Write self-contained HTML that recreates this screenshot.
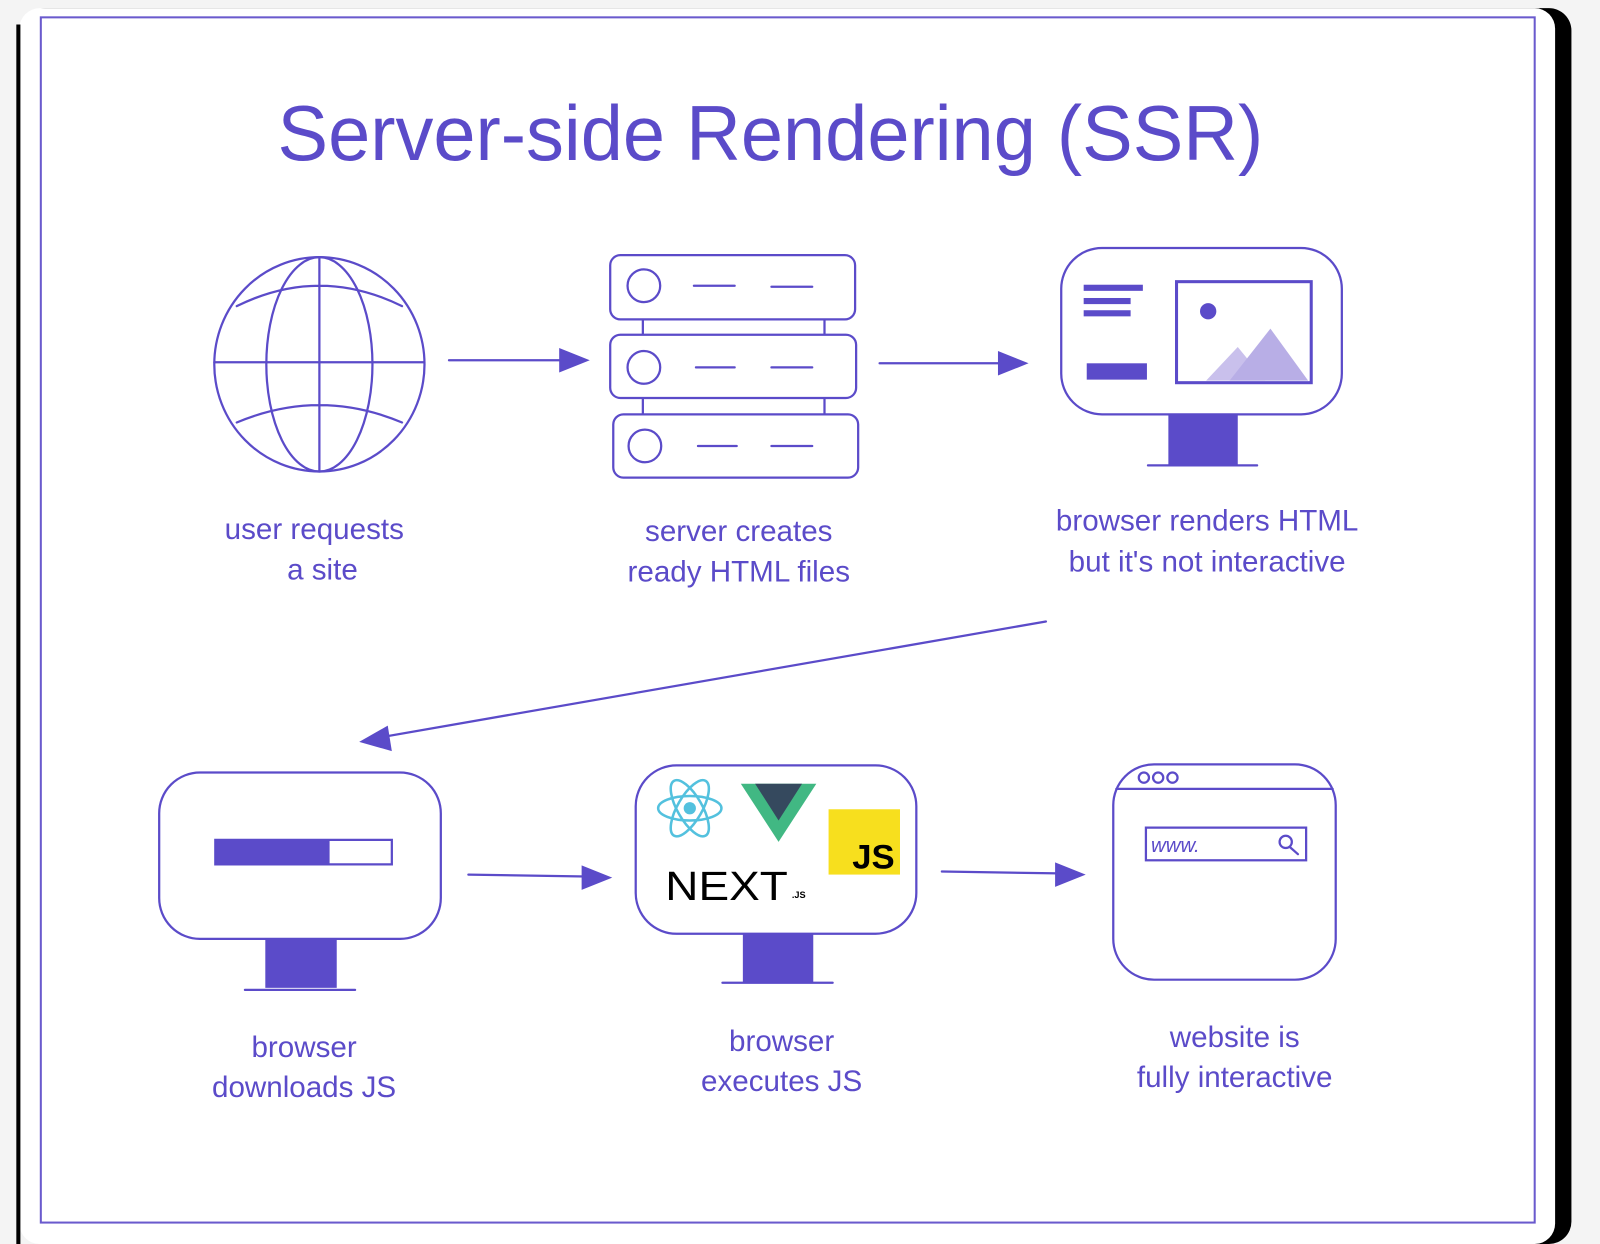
<!DOCTYPE html>
<html><head><meta charset="utf-8"><style>
html,body{margin:0;padding:0;background:#fff;}
svg{display:block;}
text{font-family:"Liberation Sans",sans-serif;fill:#5b4bc9;}
</style></head><body>
<svg width="1600" height="1244" viewBox="0 0 1568 1219" preserveAspectRatio="none" xmlns="http://www.w3.org/2000/svg">
<rect x="0" y="0" width="1568" height="1219" fill="#f4f4f4"/>
<rect x="22" y="8" width="1518" height="1211" rx="22" fill="#000"/>
<rect x="19" y="8" width="1505" height="1211" rx="20" fill="#fff"/>
<path d="M18 24 V1219" stroke="#000" stroke-width="4"/>
<rect x="40" y="17" width="1464" height="1181" fill="none" stroke="#6a5acd" stroke-width="2"/>
<g fill="none" stroke="#5b4bc9" stroke-width="2.2" stroke-linecap="round">
<ellipse cx="313" cy="357" rx="103" ry="105"/>
<ellipse cx="313" cy="357" rx="52" ry="105"/>
<path d="M313 252 V462 M210 355 H416 M232 300 Q313 260 394 300 M232 414 Q313 380 394 414"/>
<path d="M440 353 H560 M862 356 H990 M459 857 L582 859 M923 854 L1046 856 M1025 609 L370 723"/>
</g>
<g fill="#5b4bc9">
<path d="M578 353 L548 341 L548 365 Z"/>
<path d="M1008 356 L978 344 L978 368 Z"/>
<path d="M600 860 L570 848 L570 872 Z"/>
<path d="M1064 857 L1034 845 L1034 869 Z"/>
<path d="M352 727 L380 711 L384 736 Z"/>
</g>
<g fill="none" stroke="#5b4bc9" stroke-width="2.2" stroke-linecap="round">
<path d="M630 313 V406 M808 313 V406"/>
<rect x="598" y="250" width="240" height="63" rx="10" fill="#fff"/>
<rect x="598" y="328" width="241" height="62" rx="10" fill="#fff"/>
<rect x="601" y="406" width="240" height="62" rx="10" fill="#fff"/>
<circle cx="631" cy="280" r="16"/><circle cx="631" cy="360" r="16"/><circle cx="632" cy="437" r="16"/>
<path d="M680 280 H720 M756 281 H796 M682 360 H720 M756 360 H796 M684 437 H722 M756 437 H796"/>
<rect x="1040" y="243" width="275" height="163" rx="40"/>
<path d="M1125 456 H1232"/>
<rect x="1153" y="276" width="132" height="99" stroke-width="3"/>
<rect x="156" y="757" width="276" height="163" rx="40"/>
<path d="M240 970 H348"/>
<rect x="211" y="823" width="173" height="24"/>
<rect x="623" y="750" width="275" height="165" rx="40"/>
<path d="M708 963 H816"/>
<rect x="1091" y="749" width="218" height="211" rx="40"/>
<path d="M1094 773 H1306"/>
<circle cx="1121" cy="762" r="5"/><circle cx="1135" cy="762" r="5"/><circle cx="1149" cy="762" r="5"/>
<rect x="1123" y="811" width="157" height="32"/>
<circle cx="1260" cy="825" r="6"/><path d="M1264 830 L1272 837"/>
</g>
<g fill="#5b4bc9">
<rect x="1145" y="406" width="68" height="50"/>
<rect x="1062" y="279" width="58" height="6"/><rect x="1062" y="292" width="46" height="6"/><rect x="1062" y="304" width="46" height="6"/>
<rect x="1065" y="356" width="59" height="16"/>
<circle cx="1184" cy="305" r="8"/>
<rect x="260" y="920" width="70" height="48"/>
<rect x="211" y="823" width="112" height="24"/>
<rect x="728" y="915" width="69" height="48"/>
</g>
<path d="M1182 373 L1213 340 L1240 373 Z" fill="#c9c0ec"/>
<path d="M1205 373 L1245 322 L1282 373 Z" fill="#b8aee6"/>
<g fill="none" stroke="#53c1de" stroke-width="2.5">
<ellipse cx="676" cy="792" rx="31" ry="12"/>
<ellipse cx="676" cy="792" rx="31" ry="12" transform="rotate(60 676 792)"/>
<ellipse cx="676" cy="792" rx="31" ry="12" transform="rotate(-60 676 792)"/>
</g>
<circle cx="676" cy="792" r="6" fill="#53c1de"/>
<path d="M726 768 H800 L763 825 Z" fill="#41b883"/>
<path d="M740 768 H786 L763 804 Z" fill="#35495e"/>
<rect x="812" y="793" width="70" height="64" fill="#f7df1e"/>
<text x="856" y="851" font-size="34" font-weight="bold" text-anchor="middle" style="fill:#000">JS</text>
<text x="652" y="882" font-size="40" style="fill:#000" textLength="120" lengthAdjust="spacingAndGlyphs">NEXT</text>
<text x="776" y="880" font-size="9" style="fill:#000;font-weight:bold">.JS</text>
<text x="1128" y="835" font-size="20" font-style="italic">www.</text>
<text x="755" y="157" font-size="76" text-anchor="middle" textLength="966" lengthAdjust="spacingAndGlyphs">Server-side Rendering (SSR)</text>
<g font-size="29" text-anchor="middle">
<text x="308" y="528">user requests</text><text x="316" y="568">a site</text>
<text x="724" y="530">server creates</text><text x="724" y="570">ready HTML files</text>
<text x="1183" y="520">browser renders HTML</text><text x="1183" y="560">but it's not interactive</text>
<text x="298" y="1036">browser</text><text x="298" y="1075">downloads JS</text>
<text x="766" y="1030">browser</text><text x="766" y="1069">executes JS</text>
<text x="1210" y="1026">website is</text><text x="1210" y="1065">fully interactive</text>
</g>
</svg>
</body></html>
